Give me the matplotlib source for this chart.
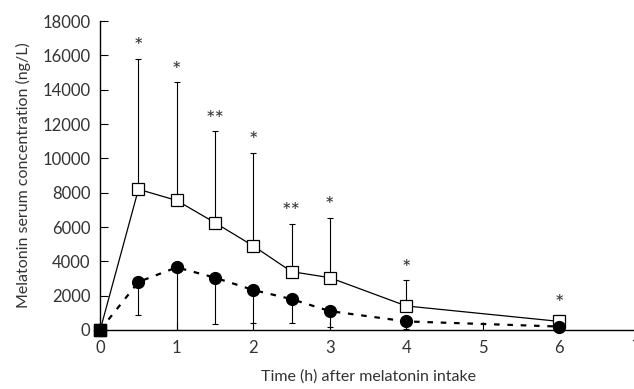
import matplotlib
matplotlib.use("Agg")
import matplotlib.pyplot as plt

# data
time = [0, 0.5, 1, 1.5, 2, 2.5, 3, 4, 6]
high = [0, 8200, 7550, 6250, 4900, 3400, 3050, 1400, 500]
high_sd = [0, 7600, 6900, 5350, 5430, 2800, 3500, 1500, 350]
low = [0, 2800, 3650, 3050, 2330, 1800, 1100, 500, 200]
low_sd = [0, 1900, 3650, 2700, 1930, 1400, 900, 450, 150]
stars = ["", "*", "*", "**", "*", "**", "*", "*", "*"]

plt.rcParams["font.family"] = ["Lato", "DejaVu Sans"]
txt = "#333333"

fig = plt.figure(figsize=(6.34, 3.89), dpi=100)
ax = fig.add_axes([0.158, 0.1517, 0.845, 0.794])

# error bars: upper only for squares, lower only for circles
ax.errorbar(time, high, yerr=[[0] * len(high), high_sd], fmt="none",
            ecolor="black", elinewidth=0.8, capsize=2, capthick=0.8)
ax.errorbar(time, low, yerr=[low_sd, [0] * len(low)], fmt="none",
            ecolor="black", elinewidth=0.8, capsize=2, capthick=0.8)

ax.plot(time, high, color="black", lw=0.9, marker="s", ms=8,
        mfc="white", mec="black", mew=0.9, zorder=3, clip_on=False)
ax.plot(time, low, color="black", lw=1.6, ls=(0, (2.5, 3.5)), marker="o",
        ms=8.5, mfc="black", mec="black", zorder=4, clip_on=False)
# filled square at the origin
ax.plot(time[:1], low[:1], marker="s", ms=8, color="black", ls="none",
        zorder=5, clip_on=False)

for t, h, s, st in zip(time, high, high_sd, stars):
    if st:
        ax.annotate(st, (t, h + s), xytext=(0, 1), textcoords="offset points",
                    ha="center", va="bottom", fontsize=16, color=txt)

ax.set_xlim(0, 7)
ax.set_ylim(0, 18000)
ax.set_xticks(range(0, 8))
ax.set_xticklabels(["0", "1", "2", "3", "4", "5", "6", "7"])
ax.set_yticks(range(0, 18001, 2000))
ax.tick_params(axis="both", direction="in", length=6, width=0.8,
               labelsize=12, labelcolor=txt, pad=7)
ax.spines["top"].set_visible(False)
ax.spines["right"].set_visible(False)
for sp in ("left", "bottom"):
    ax.spines[sp].set_linewidth(1.0)
ax.spines["bottom"].set_zorder(2)

ax.set_xlabel("Time (h) after melatonin intake", fontsize=11.5, color=txt,
              labelpad=10)
ax.set_ylabel("Melatonin serum concentration (ng/L)", fontsize=11.5,
              color=txt, labelpad=8)

fig.savefig("out.png", dpi=100)
